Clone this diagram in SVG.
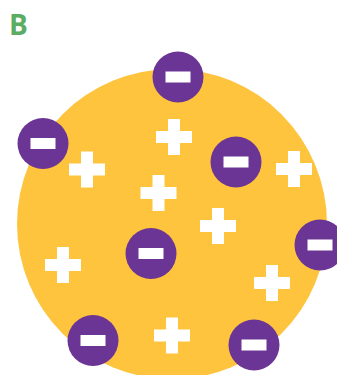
<svg xmlns="http://www.w3.org/2000/svg" width="337" height="375" viewBox="0 0 337 375">
<defs>
<style>
.e{fill:#6A3594}
.m{fill:#FFFFFF}
.p{fill:#FFFFFF}
</style>
<g id="minus"><circle class="e" r="25.5"/><rect class="m" x="-12.5" y="-5.5" width="25" height="11"/></g>
<path id="plus" class="p" d="M-6,-18H6V-6H18V6H6V18H-6V6H-18V-6H-6Z"/>
</defs>
<rect width="337" height="375" fill="#FFFFFF"/>
<text x="9" y="35" font-family="'Open Sans', 'DejaVu Sans', sans-serif" font-weight="bold" font-size="28" fill="#5BAD64">B</text>
<g id="atom"><circle cx="172" cy="224" r="155" fill="#FFC43D"/></g>
<g id="protons">
<use href="#plus" x="174" y="137"/>
<use href="#plus" x="158.5" y="193"/>
<use href="#plus" x="294" y="169"/>
<use href="#plus" x="87" y="169.5"/>
<use href="#plus" x="218" y="226"/>
<use href="#plus" x="63" y="265"/>
<use href="#plus" x="272" y="283"/>
<use href="#plus" x="172" y="335.5"/>
</g>
<g id="electrons">
<use href="#minus" x="178" y="77"/>
<use href="#minus" x="43" y="143.5"/>
<use href="#minus" x="236" y="162"/>
<use href="#minus" x="151" y="253.5"/>
<use href="#minus" x="320" y="245"/>
<use href="#minus" x="93" y="340.5"/>
<use href="#minus" x="254" y="345"/>
</g>
<g id="connectors"/>
</svg>
